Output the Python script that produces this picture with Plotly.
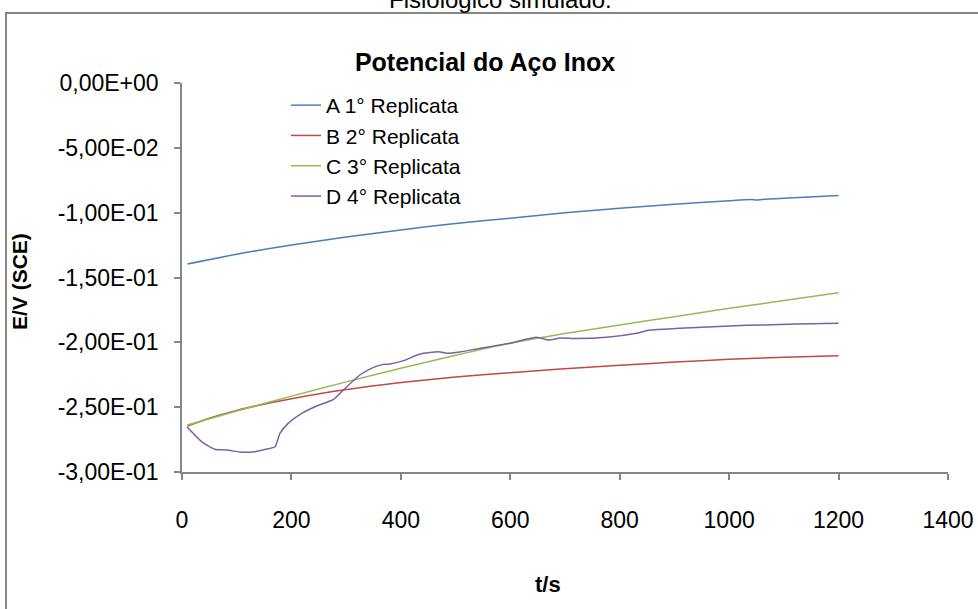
import plotly.graph_objects as go

# ---- data ----
t_A = [10, 100, 200, 300, 400, 500, 600, 700, 800, 900, 1000, 1040, 1050, 1060, 1100, 1200]
E_A = [-0.1396, -0.1320, -0.1250, -0.1188, -0.1133, -0.1083, -0.1043, -0.1000, -0.0966,
       -0.0936, -0.0908, -0.0899, -0.0903, -0.0898, -0.0888, -0.0868]

t_B = [10, 50, 100, 143, 200, 294, 400, 500, 600, 685, 800, 900, 1000, 1100, 1200]
E_B = [-0.2645, -0.2585, -0.2525, -0.2483, -0.2435, -0.2368, -0.2310, -0.2268, -0.2234,
       -0.2208, -0.2177, -0.2152, -0.2131, -0.2116, -0.2104]

t_C = [10, 100, 200, 300, 400, 500, 600, 700, 800, 900, 1000, 1100, 1200]
E_C = [-0.2637, -0.2530, -0.2415, -0.2305, -0.2200, -0.2100, -0.2007, -0.1932, -0.1866,
       -0.1802, -0.1738, -0.1678, -0.1618]

t_D = [9, 36, 60, 82, 106, 133, 155, 170, 179, 194, 219, 246, 277, 295, 325, 350, 368, 380,
       405, 435, 469, 484, 508, 539, 600, 648, 670, 691, 721, 776, 831, 855, 910, 971, 1032,
       1093, 1124, 1200]
E_D = [-0.2651, -0.2766, -0.2825, -0.2830, -0.2846, -0.2843, -0.2823, -0.2805, -0.2702,
       -0.2625, -0.2548, -0.2491, -0.2440, -0.2368, -0.2252, -0.2193, -0.2170, -0.2167,
       -0.2141, -0.2090, -0.2072, -0.2084, -0.2074, -0.2051, -0.2007, -0.1961, -0.1982,
       -0.1966, -0.1971, -0.1961, -0.1930, -0.1905, -0.1892, -0.1879, -0.1868, -0.1863,
       -0.1859, -0.1853]

series_names = ["A 1° Replicata", "B 2° Replicata", "C 3° Replicata", "D 4° Replicata"]
series_colors = ["#4A7EBB", "#BE4B48", "#98B954", "#7D60A0"]

y_tickvals = [0, -0.05, -0.10, -0.15, -0.20, -0.25, -0.30]
y_ticktext = ["0,00E+00", "-5,00E-02", "-1,00E-01", "-1,50E-01", "-2,00E-01", "-2,50E-01", "-3,00E-01"]
x_tickvals = [0, 200, 400, 600, 800, 1000, 1200, 1400]

FONT = "Liberation Sans, Arial, sans-serif"

fig = go.Figure()
for (tx, ey), name, col in zip([(t_A, E_A), (t_B, E_B), (t_C, E_C), (t_D, E_D)],
                               series_names, series_colors):
    fig.add_trace(go.Scatter(x=tx, y=ey, mode="lines", name=name,
                             line=dict(color=col, width=1.5, shape="spline", smoothing=0.6)))

L, R, T, B = 182, 30, 83, 137
W, H = 978, 609
pw, ph = W - L - R, H - T - B

def px_x(p):
    return (p - L) / pw

def px_y(p):
    return (H - B - p) / ph

fig.update_layout(
    width=W, height=H,
    margin=dict(l=L, r=R, t=T, b=B, autoexpand=False),
    paper_bgcolor="white", plot_bgcolor="white",
    font=dict(family=FONT, size=22, color="black"),
    showlegend=True,
    legend=dict(x=px_x(286), y=px_y(85), xanchor="left", yanchor="top",
                font=dict(size=21), bgcolor="rgba(0,0,0,0)", borderwidth=0,
                tracegroupgap=0),
    title=dict(text="<b>Potencial do Aço Inox</b>", x=px_x(485), xref="paper",
               y=1 - 62 / H, yref="container", xanchor="center", yanchor="middle",
               font=dict(size=25, family=FONT)),
    xaxis=dict(range=[0, 1400], tickvals=x_tickvals, showgrid=False, zeroline=False,
               showline=True, linecolor="#868686", linewidth=1.5, automargin=False,
               ticks="outside", ticklen=6, tickcolor="#868686", tickwidth=1.5,
               tickfont=dict(size=23), ticklabelstandoff=21),
    yaxis=dict(range=[-0.3, 0], tickvals=y_tickvals, ticktext=y_ticktext, showgrid=False,
               zeroline=False, showline=True, linecolor="#868686", linewidth=1.5,
               automargin=False,
               ticks="outside", ticklen=6, tickcolor="#868686", tickwidth=1.5,
               tickfont=dict(size=23), ticklabelstandoff=11),
)

fig.add_annotation(text="Fisiológico simulado.", xref="paper", yref="paper",
                   x=px_x(500), y=px_y(15), xanchor="center", yanchor="bottom",
                   showarrow=False, font=dict(size=24))
fig.add_annotation(text="<b>E/V (SCE)</b>", xref="paper", yref="paper",
                   x=px_x(19), y=px_y(282), xanchor="center", yanchor="middle",
                   textangle=-90, showarrow=False, font=dict(size=21))
fig.add_annotation(text="<b>t/s</b>", xref="paper", yref="paper",
                   x=px_x(548), y=px_y(584), xanchor="center", yanchor="middle",
                   showarrow=False, font=dict(size=22))

fig.add_shape(type="rect", xref="paper", yref="paper",
              x0=px_x(6), x1=px_x(1100), y0=px_y(800), y1=px_y(13),
              line=dict(color="#868686", width=2), fillcolor="rgba(0,0,0,0)", layer="below")

fig.write_html("out.html")
